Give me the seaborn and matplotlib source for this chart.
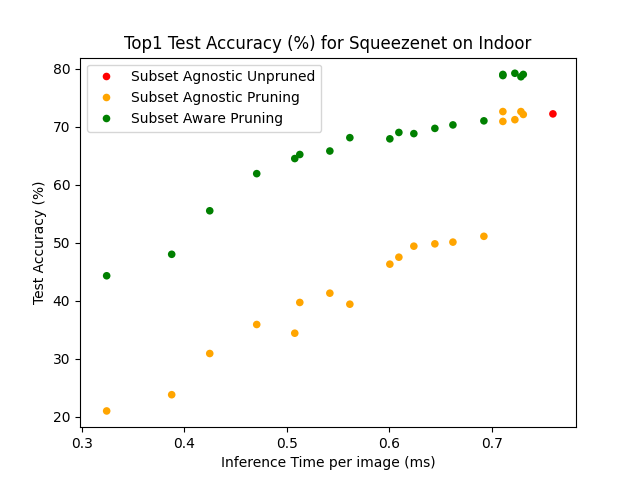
import pandas as pd
import numpy as np
import matplotlib
matplotlib.use("Agg")
import matplotlib.pyplot as plt
import seaborn as sns

# inference time per image (ms) of the pruned models, shared by both pruning methods
prune_times = [0.3244, 0.3878, 0.4249, 0.4707, 0.5078, 0.5127, 0.5420, 0.5615,
               0.6005, 0.6093, 0.6239, 0.6444, 0.6620, 0.6922,
               0.7107, 0.7107, 0.7224, 0.7283, 0.7306]
agnostic_acc = [21.0, 23.8, 30.9, 35.9, 34.4, 39.7, 41.3, 39.4,
                46.3, 47.5, 49.4, 49.8, 50.1, 51.1,
                72.6, 70.9, 71.2, 72.6, 72.1]
aware_acc = [44.3, 48.0, 55.5, 61.9, 64.5, 65.2, 65.8, 68.1,
             67.9, 69.0, 68.8, 69.7, 70.3, 71.0,
             78.8, 79.0, 79.2, 78.6, 79.0]
unpruned_time = [0.7595]
unpruned_acc = [72.2]

labels = ["Subset Agnostic Unpruned", "Subset Agnostic Pruning", "Subset Aware Pruning"]
colors = {labels[0]: "red", labels[1]: "orange", labels[2]: "green"}

df = pd.concat([
    pd.DataFrame({"time": unpruned_time, "acc": unpruned_acc, "method": labels[0]}),
    pd.DataFrame({"time": prune_times, "acc": agnostic_acc, "method": labels[1]}),
    pd.DataFrame({"time": prune_times, "acc": aware_acc, "method": labels[2]}),
], ignore_index=True)

fig, ax = plt.subplots(figsize=(6.4, 4.8), dpi=100)
sns.scatterplot(data=df, x="time", y="acc", hue="method", hue_order=labels,
                palette=colors, s=30, linewidth=0, ax=ax)
ax.set_xlim(0.2984, 0.782)
ax.set_ylim(18.2, 81.9)
ax.set_title("Top1 Test Accuracy (%) for Squeezenet on Indoor")
ax.set_xlabel("Inference Time per image (ms)")
ax.set_ylabel("Test Accuracy (%)")
ax.legend(loc="upper left", title=None)
fig.savefig("out.png")
